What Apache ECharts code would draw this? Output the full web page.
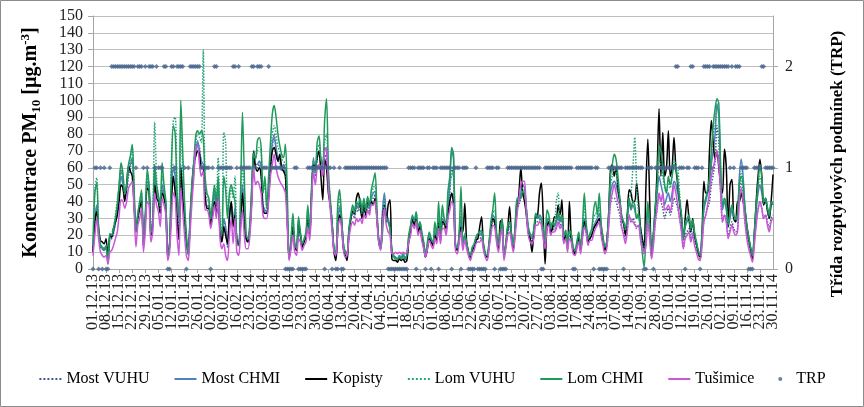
<!DOCTYPE html>
<html>
<head>
<meta charset="utf-8">
<script src="https://cdn.jsdelivr.net/npm/echarts@6/dist/echarts.min.js"></script>
<style>
html,body{margin:0;padding:0;background:#fff;}
#chart{width:864px;height:407px;}
</style>
</head>
<body>
<div id="chart"></div>
<script>
// ---- categories: daily dates 01.12.13 .. 30.11.14 ----
const startDate = new Date(2013, 11, 1);
const dayCount = 365;
const categories = [];
for (let d = 0; d < dayCount; d++) {
  const dt = new Date(startDate.getFullYear(), startDate.getMonth(), startDate.getDate() + d);
  const dd = String(dt.getDate()).padStart(2, '0');
  const mm = String(dt.getMonth() + 1).padStart(2, '0');
  const yy = String(dt.getFullYear()).slice(2);
  categories.push(dd + '.' + mm + '.' + yy);
}

const leftTicks = [0, 150, 10];   // min, max, interval of PM10 axis
const rightTicks = [0, 2.5, 1];   // min, max, interval of TRP axis
const labelStep = 7;              // one date label per week

const mostVUHU = [
11,28,36,21,13,12,11,13,5,17,18,21,28,36,50,60,52,42,46,55,60,64,40,23,31,37,40,14,29,50,48,
20,27,60,45,40,33,48,44,36,8,14,45,62,58,33,17,60,45,31,17,9,29,46,58,68,74,72,62,60,40,36,
37,27,34,44,37,48,23,17,29,24,13,31,39,27,35,17,14,29,48,29,17,16,24,44,68,60,60,62,58,37,34,
33,44,60,72,80,70,64,63,58,60,56,29,7,14,25,13,11,25,19,13,16,19,31,20,43,64,55,66,68,63,58,
68,65,48,38,26,11,9,27,35,29,14,9,9,21,29,33,30,36,34,38,30,38,31,40,34,40,42,44,30,16,12,
33,42,30,28,23,10,7,6,5,7,6,8,5,7,17,22,30,26,30,22,25,18,14,7,13,18,15,14,20,17,27,
17,28,26,23,32,45,60,55,13,11,18,27,13,18,14,9,6,11,13,16,18,18,20,13,8,7,14,23,29,27,18,
12,20,26,7,14,22,25,18,12,23,36,38,42,45,44,32,22,18,16,20,28,28,29,27,20,14,25,27,21,24,23,
26,30,26,28,16,20,12,20,18,11,9,14,18,11,20,27,23,15,18,19,23,25,27,30,22,16,11,13,25,38,42,
42,40,36,32,24,22,18,24,32,28,30,28,24,26,20,14,10,16,28,20,7,16,28,36,44,40,36,30,34,36,32,
36,42,40,36,30,24,13,20,22,24,18,22,16,12,8,6,16,28,32,36,40,50,56,64,85,75,45,28,32,28,20,
24,28,24,22,24,45,52,44,28,20,14,10,6,16,28,36,40,36,30,32,28,24,30,32
];

const mostCHMI = [
12,30,38,22,14,13,12,14,5,18,19,22,27,33,45,55,50,42,48,58,62,66,42,24,32,38,42,15,30,52,50,
21,28,55,45,42,35,50,45,38,9,15,45,60,55,35,18,62,45,32,18,10,30,48,60,70,76,70,64,62,42,37,
38,28,35,45,38,50,24,18,30,25,14,32,40,28,36,18,15,30,50,30,18,17,25,45,70,62,62,64,60,38,35,
34,45,62,75,78,72,66,65,60,62,58,30,7,15,26,14,12,26,20,14,17,20,32,21,45,66,57,68,70,65,60,
72,70,50,40,27,12,10,28,37,30,15,10,10,22,30,35,32,38,36,40,32,40,33,42,36,42,45,46,32,17,13,
35,45,32,30,25,11,8,7,6,8,7,9,6,8,18,24,32,28,32,24,27,20,15,8,14,20,17,15,22,18,30,
18,30,28,25,35,50,70,65,14,12,20,30,14,20,15,10,7,12,14,18,20,20,22,14,9,8,15,25,32,30,20,
13,22,29,8,15,24,28,20,13,25,40,40,45,50,48,35,24,20,18,22,31,30,32,30,22,15,28,30,23,26,25,
28,32,28,30,18,22,13,22,20,12,10,15,20,12,22,30,25,17,20,21,25,28,30,33,25,18,12,15,30,45,50,
52,50,45,40,30,27,22,30,40,35,38,35,30,32,25,18,13,20,35,25,9,20,35,45,55,50,45,38,42,45,40,
45,52,50,45,38,30,17,25,28,30,22,27,20,15,10,8,20,35,40,45,50,62,70,80,98,90,55,35,40,35,25,
30,35,30,28,30,55,65,55,35,25,18,12,7,20,35,45,50,45,38,40,35,30,38,40
];

const kopisty = [
10,28,34,24,17,16,15,18,6,20,19,24,28,32,40,50,48,40,50,61,58,55,38,22,30,36,40,14,28,48,46,
20,26,50,42,40,33,45,42,36,8,14,40,55,45,32,18,60,42,30,16,9,28,49,63,67,70,68,60,60,45,36,
36,26,32,40,32,42,22,16,25,20,15,30,40,25,32,17,14,28,45,28,18,16,24,42,70,60,58,60,55,35,33,
33,42,60,70,72,68,64,68,60,58,55,30,6,14,25,13,11,28,21,13,16,19,30,20,44,62,60,66,70,55,41,
65,60,45,38,26,10,5,22,32,28,12,8,5,22,30,34,33,42,45,38,30,38,32,40,38,40,38,42,30,16,12,
30,38,28,38,41,6,5,5,4,6,5,6,4,5,16,22,30,26,30,22,25,19,13,7,12,18,16,14,20,17,28,
17,28,27,24,33,40,45,38,14,11,18,25,22,39,16,10,7,11,13,17,18,25,31,14,9,7,14,24,30,28,19,
12,28,29,7,14,24,37,20,12,24,35,45,60,45,40,32,22,18,10,22,31,32,45,51,30,3,25,28,22,24,31,
30,38,32,41,17,20,12,40,18,11,9,14,19,11,20,28,24,16,18,20,24,26,28,30,22,16,11,16,32,59,62,
55,60,48,40,30,27,20,32,47,45,40,40,51,40,25,18,12,50,77,40,9,20,35,60,95,55,81,55,60,82,55,
60,78,60,50,40,30,18,30,41,30,22,30,20,15,10,7,20,52,45,45,70,88,75,65,70,60,50,45,71,60,25,
50,53,30,28,40,40,45,40,35,25,18,12,6,20,40,55,65,55,38,42,35,30,40,56
];

const lomVUHU = [
14,48,54,25,15,13,12,14,4,20,21,25,32,41,49,58,55,44,50,60,65,72,45,22,32,40,45,15,30,55,50,
22,32,87,55,42,36,55,48,38,9,15,65,88,90,50,25,85,60,38,18,9,30,50,62,75,80,78,75,130,50,42,
40,30,38,50,42,66,28,22,81,75,35,40,48,42,55,16,14,40,60,45,20,18,27,48,70,66,70,72,70,45,50,
35,50,70,80,85,80,72,70,65,64,62,38,7,17,30,15,13,29,21,15,18,21,35,22,47,64,58,70,74,66,62,
75,80,55,42,28,12,10,33,42,31,16,11,10,23,31,36,33,39,37,41,33,41,34,42,37,44,48,50,33,17,13,
30,40,30,28,24,11,8,7,6,8,7,9,7,9,19,25,31,28,33,24,27,21,16,9,15,21,18,16,25,19,33,
19,33,29,26,38,52,55,60,15,12,21,35,15,21,15,10,8,12,14,18,21,21,22,15,10,8,16,26,33,35,21,
14,23,29,8,15,25,28,21,14,26,40,41,43,48,46,35,25,20,19,23,32,31,31,29,23,16,30,30,24,27,26,
40,45,30,31,19,23,14,22,21,13,11,15,21,13,23,38,26,18,21,22,30,33,31,38,26,19,13,16,31,50,55,
60,58,50,42,31,28,23,31,42,45,60,78,50,33,24,15,10,20,36,25,10,21,36,48,65,62,55,48,45,52,48,
55,65,62,60,45,32,18,26,29,31,23,28,21,16,11,8,21,36,41,46,52,65,80,85,95,92,58,37,41,37,26,
32,37,31,29,31,52,58,52,36,26,19,13,8,21,37,48,55,50,39,41,36,31,39,39
];

const lomCHMI = [
15,45,51,24,14,12,11,13,3,21,20,24,30,38,50,63,57,45,50,62,67,74,48,23,33,40,47,16,32,59,49,
21,30,62,50,44,38,63,50,40,8,14,60,85,80,45,30,100,70,40,20,8,32,52,64,79,82,80,82,78,55,45,
42,30,40,49,40,55,26,20,55,47,30,45,50,45,40,15,14,45,93,55,20,18,28,50,68,65,76,78,72,45,55,
36,55,75,92,97,90,80,73,68,66,74,45,6,18,33,15,12,31,22,15,18,22,38,22,48,60,58,75,79,65,62,
88,101,60,40,27,12,9,38,47,32,15,10,9,24,32,38,34,40,38,42,34,42,35,43,38,47,52,57,35,16,12,
22,35,30,28,24,10,7,6,6,7,6,8,6,8,20,26,31,29,34,25,28,22,16,8,16,22,18,16,28,20,40,
20,38,30,27,46,55,72,68,14,13,22,49,15,20,16,10,8,13,15,19,21,22,23,15,9,8,16,28,35,45,22,
14,22,30,7,16,26,28,21,14,27,42,42,42,46,45,36,25,21,20,24,33,31,30,29,24,16,35,32,25,28,26,
29,33,29,32,19,23,14,23,21,13,11,16,22,13,25,45,27,18,21,24,35,40,32,45,27,19,13,16,32,55,62,
68,65,55,42,32,28,24,32,42,36,40,38,30,33,22,10,1,20,40,26,10,22,38,50,73,70,60,50,45,55,50,
55,62,60,52,40,32,18,27,30,32,24,29,22,16,11,8,22,38,42,47,55,70,85,95,101,98,60,38,42,38,27,
33,38,32,30,33,50,55,50,36,26,19,13,8,22,38,50,62,55,40,42,37,32,40,38
];

const tusimice = [
8,20,30,18,10,8,7,8,3,10,11,14,18,22,32,41,40,36,40,48,50,52,35,13,26,30,36,10,22,40,38,
16,22,45,38,34,25,42,38,32,5,10,30,45,42,20,8,48,35,20,8,5,22,40,55,72,73,62,55,58,35,35,
32,24,30,38,30,42,18,12,15,8,5,20,30,15,30,10,8,22,35,20,12,12,20,38,60,50,52,50,45,32,30,
30,40,55,62,68,60,55,52,50,48,45,25,5,12,20,10,8,18,16,11,14,16,25,17,38,58,50,60,62,60,55,
70,72,48,35,22,10,8,22,30,25,12,7,8,18,25,28,26,30,28,30,27,32,30,35,32,38,38,40,28,15,11,
28,36,26,22,20,9,9,10,9,10,9,10,9,10,16,20,27,24,28,20,23,17,12,7,12,17,14,12,18,15,24,
15,24,24,20,30,35,40,38,11,9,16,22,11,17,12,8,5,9,11,15,16,16,18,11,7,5,12,20,26,25,16,
10,18,24,5,12,20,22,16,10,20,32,42,50,52,52,32,20,16,15,18,26,26,28,26,18,12,24,26,20,22,22,
24,28,24,26,15,18,10,18,16,9,8,12,16,9,18,25,21,14,17,17,21,24,26,28,20,14,9,12,25,40,45,
50,45,40,38,25,20,15,22,32,28,28,26,25,26,18,12,9,14,28,18,6,14,28,36,45,40,45,35,36,38,34,
40,50,45,38,30,22,12,18,20,22,16,20,14,10,6,5,14,28,32,38,45,55,60,65,70,62,45,28,32,28,18,
22,26,22,20,22,40,48,40,28,18,12,8,4,14,26,35,40,36,30,32,26,22,28,30
];

const trp = [
0,1,1,0,1,0,1,0,0,1, 2,2,2,2,2,2,2,2,2,2, 2,2,2,1,2,2,2,1,2,1, 2,2,2,1,2,1,1,1,2,2,
0,0,2,2,1,2,2,2,2,1, 0,1,2,2,2,2,2,2,1,1, 1,1,1,0,1,2,2,1,1,1, 1,1,1,1,1,2,2,1,2,1,
1,1,1,1,1,2,2,1,2,2, 2,1,1,1,2,1,1,1,1,1, 1,1,1,0,0,0,0,0,1,1, 0,0,0,0,0,1,1,1,1,1,
1,1,1,1,0,1,1,1,0,1, 0,0,1,0,0,1,1,1,1,1, 1,1,1,1,1,1,1,1,1,1, 1,1,1,1,1,1,1,1,0,0,
0,0,0,0,0,0,0,0,0,1, 1,1,1,0,1,1,1,1,0,1, 1,0,1,1,1,0,1,1,1,1, 1,1,0,1,1,1,1,0,1,1,
1,0,0,0,0,1,0,0,0,0, 0,1,1,1,1,0,1,1,0,0, 0,0,1,1,1,1,1,1,1,1, 1,1,1,1,1,1,1,1,1,1,
0,0,1,1,1,1,1,1,1,1, 1,1,1,1,1,1,1,0,0,1, 1,1,1,1,1,1,1,1,0,1, 1,0,0,0,0,0,1,1,1,1,
1,1,1,1,0,1,1,1,1,1, 1,1,1,1,1,0,0,1,1,1, 0,1,1,1,1,1,1,1,1,1, 1,1,2,2,1,1,1,0,1,1,
2,2,1,1,1,0,1,2,2,2, 2,1,2,2,2,2,2,2,2,2, 2,1,2,1,2,2,2,1,1,1, 1,0,0,0,1,1,1,1,2,2,
1,1,1,1,1
];

const seriesNames = ['Most VUHU', 'Most CHMI', 'Kopisty', 'Lom VUHU', 'Lom CHMI', 'Tušimice', 'TRP'];
const seriesColors = ['#41598a', '#4f81bd', '#000000', '#27a57c', '#1f9a5c', '#c957d8', '#46648c'];

const FONT = '"Liberation Serif", "Times New Roman", serif';
const X_LABEL_FONT = '16px "Liberation Serif", "Times New Roman", serif';

function lineSeries(idx, data, dotted) {
  return {
    name: seriesNames[idx],
    type: 'line',
    data: data,
    xAxisIndex: 0,
    yAxisIndex: 0,
    smooth: 0.3,
    symbol: 'circle',
    showSymbol: false,
    lineStyle: { color: seriesColors[idx], width: 1.5, type: dotted ? 'dotted' : 'solid' },
    itemStyle: { color: seriesColors[idx] },
    z: 2 + idx
  };
}

const hiddenMarker = { color: 'rgba(0,0,0,0)', borderWidth: 0, opacity: 0 };
const legendData = seriesNames.slice(0, 6).map(function (n) { return { name: n, itemStyle: hiddenMarker }; });
legendData.push({ name: 'TRP', icon: 'circle' });

const lastIdx = categories.length - 1;
const GRID = { left: 93, right: 91, top: 16, bottom: 138 };

const staticGraphics = [
  {
    type: 'rect', silent: true, z: 100,
    shape: { x: 0.5, y: 0.5, width: 863, height: 406 },
    style: { fill: 'none', stroke: '#8c8c8c', lineWidth: 1 }
  },
  {
    type: 'text', x: 838, y: 164, rotation: Math.PI / 2, z: 100,
    style: {
      text: 'Třída rozptylových podmínek (TRP)',
      font: 'bold 17px "Liberation Serif", serif',
      fill: '#000', align: 'center', verticalAlign: 'middle'
    }
  }
];

const chart = echarts.init(document.getElementById('chart'), null, { renderer: 'canvas' });
chart.setOption({
  animation: false,
  backgroundColor: '#ffffff',
  grid: { left: GRID.left, right: GRID.right, top: GRID.top, bottom: GRID.bottom, containLabel: false },
  legend: {
    data: legendData,
    left: 'center',
    top: 366,
    itemGap: 24,
    itemWidth: 22,
    itemHeight: 4,
    textStyle: { fontFamily: FONT, fontSize: 16, color: '#000' }
  },
  xAxis: {
    type: 'category',
    data: categories,
    boundaryGap: false,
    position: 'bottom',
    axisLine: { show: true, lineStyle: { color: '#a6a6a6', width: 1 } },
    axisTick: { show: true, interval: labelStep - 1, length: 4, lineStyle: { color: '#a6a6a6' } },
    axisLabel: {
      rotate: 90, margin: 5, fontFamily: FONT, fontSize: 16, color: '#222', hideOverlap: false,
      // the library drops the first/last shown label here (showMin/MaxLabel false);
      // those two are drawn below as graphic text at the same category positions
      interval: function (i) { return i % labelStep === 0; },
      showMinLabel: false, showMaxLabel: false
    },
    splitLine: { show: false }
  },
  yAxis: [
    {
      type: 'value',
      position: 'left',
      min: leftTicks[0], max: leftTicks[1], interval: leftTicks[2],
      axisLine: { show: true, lineStyle: { color: '#a6a6a6' } },
      axisTick: { show: true, length: 5, lineStyle: { color: '#a6a6a6' } },
      axisLabel: { margin: 10, fontFamily: FONT, fontSize: 16, color: '#222' },
      splitLine: { show: true, lineStyle: { color: '#bfbfbf', width: 1 } },
      name: '{b|Koncentrace PM}{s|10}{b| [µg.m}{p|-3}{b|]}',
      nameLocation: 'middle',
      nameRotate: 90,
      nameGap: 50,
      nameTextStyle: {
        rich: {
          b: { fontFamily: FONT, fontSize: 20, fontWeight: 'bold', color: '#000', lineHeight: 24, verticalAlign: 'middle' },
          s: { fontFamily: FONT, fontSize: 13, fontWeight: 'bold', color: '#000', lineHeight: 24, verticalAlign: 'bottom' },
          p: { fontFamily: FONT, fontSize: 13, fontWeight: 'bold', color: '#000', lineHeight: 24, verticalAlign: 'top' }
        }
      }
    },
    {
      type: 'value',
      position: 'right',
      min: rightTicks[0], max: rightTicks[1], interval: rightTicks[2],
      axisLine: { show: true, lineStyle: { color: '#a6a6a6' } },
      axisTick: { show: true, length: 5, lineStyle: { color: '#a6a6a6' } },
      axisLabel: {
        margin: 12, fontFamily: FONT, fontSize: 16, color: '#222', showMaxLabel: false,
        formatter: function (v) { return Number.isInteger(v) ? String(v) : ''; }
      },
      splitLine: { show: false }
    }
  ],
  graphic: staticGraphics,
  series: [
    lineSeries(0, mostVUHU, true),
    lineSeries(1, mostCHMI, false),
    lineSeries(2, kopisty, false),
    lineSeries(3, lomVUHU, true),
    lineSeries(4, lomCHMI, false),
    lineSeries(5, tusimice, false),
    {
      name: seriesNames[6],
      type: 'scatter',
      xAxisIndex: 0,
      yAxisIndex: 1,
      data: trp,
      symbol: 'diamond',
      symbolSize: 5,
      itemStyle: { color: seriesColors[6] },
      z: 20
    }
  ]
});

// first and last date labels, placed at their category positions via the axis scale
const axisY = chart.convertToPixel({ yAxisIndex: 0 }, leftTicks[0]);
const edgeLabels = [0, lastIdx].map(function (idx) {
  const px = chart.convertToPixel({ xAxisIndex: 0 }, categories[idx]);
  return {
    type: 'text', x: px, y: axisY + 5, rotation: Math.PI / 2, z: 50, silent: true,
    style: { text: categories[idx], font: X_LABEL_FONT, fill: '#222', align: 'right', verticalAlign: 'middle' }
  };
});
chart.setOption({ graphic: staticGraphics.concat(edgeLabels) }, { replaceMerge: ['graphic'] });
</script>
</body>
</html>
